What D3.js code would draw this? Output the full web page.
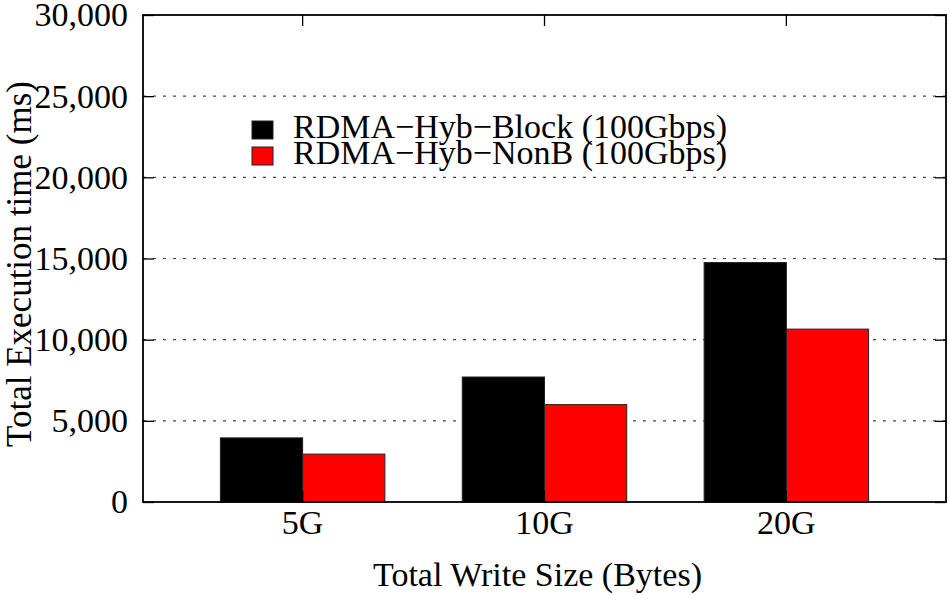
<!DOCTYPE html>
<html>
<head>
<meta charset="utf-8">
<script src="https://cdn.jsdelivr.net/npm/d3@7"></script>
<style>
  body { margin: 0; background: #fff; }
  svg text { font-family: "Liberation Serif", "DejaVu Serif", serif; fill: #000; }
</style>
</head>
<body>
<svg id="chart"></svg>
<script>
// data
const categories = ['5G', '10G', '20G'];
const seriesNames = ['RDMA\u2212Hyb\u2212Block (100Gbps)', 'RDMA\u2212Hyb\u2212NonB (100Gbps)'];
const blockValues = [3950, 7700, 14750];
const nonbValues = [2950, 6000, 10650];
const yTicks = [0, 5000, 10000, 15000, 20000, 25000, 30000];
const colors = ['#000000', '#ff0000'];

const [width, height] = [950, 595];
const margin = { top: 15, right: 4, bottom: 93, left: 143 };
const w = width - margin.left - margin.right;
const h = height - margin.top - margin.bottom;

let svg = d3.select('#chart')
  .attr('width', width)
  .attr('height', height)

let g = svg.append('g')
  .attr('transform', 'translate(' + margin.left + ',' + margin.top + ')')

let x0 = d3.scaleBand()
  .domain(categories)
  .range([0, w])
  .padding(0.32)

let x1 = d3.scaleBand()
  .domain(d3.range(seriesNames.length))
  .range([0, x0.bandwidth()])

let y = d3.scaleLinear()
  .domain([0, 30000])
  .range([h, 0])

// grid lines
g.append('g')
  .selectAll('line')
  .data(yTicks.filter(d => d > 0 && d < 30000))
  .enter()
  .append('line')
  .attr('x1', 0)
  .attr('x2', w)
  .attr('y1', d => y(d))
  .attr('y2', d => y(d))
  .attr('stroke', '#444')
  .attr('stroke-width', 1.2)
  .attr('stroke-dasharray', '3,7')

// bars
let rows = categories.map((c, i) => ({ cat: c, vals: [blockValues[i], nonbValues[i]] }))

g.append('g')
  .selectAll('g')
  .data(rows)
  .enter()
  .append('g')
  .attr('transform', d => 'translate(' + x0(d.cat) + ',0)')
  .selectAll('rect')
  .data(d => d.vals.map((v, k) => ({ k: k, v: v })))
  .enter()
  .append('rect')
  .attr('x', d => x1(d.k))
  .attr('width', x1.bandwidth())
  .attr('y', d => y(d.v))
  .attr('height', d => h - y(d.v))
  .attr('fill', d => colors[d.k])
  .attr('stroke', '#222')
  .attr('stroke-width', 1)

// axes, ticks on both sides like gnuplot
let fmt = d3.format(',')
let tickLen = 11

g.append('g')
  .call(d3.axisLeft(y).tickValues(yTicks).tickFormat(fmt).tickSizeInner(-tickLen).tickSizeOuter(0).tickPadding(15))
  .call(a => a.select('.domain').remove())
  .call(a => a.selectAll('text').style('font-size', '34px'))

g.append('g')
  .attr('transform', 'translate(' + w + ',0)')
  .call(d3.axisRight(y).tickValues(yTicks).tickFormat('').tickSizeInner(-tickLen).tickSizeOuter(0))
  .call(a => a.select('.domain').remove())

g.append('g')
  .attr('transform', 'translate(0,' + h + ')')
  .call(d3.axisBottom(x0).tickSizeInner(-tickLen).tickSizeOuter(0).tickPadding(8))
  .call(a => a.select('.domain').remove())
  .call(a => a.selectAll('text').style('font-size', '34px'))

g.append('g')
  .call(d3.axisTop(x0).tickFormat('').tickSizeInner(-tickLen).tickSizeOuter(0))
  .call(a => a.select('.domain').remove())

g.selectAll('.tick line').attr('stroke', '#000').attr('stroke-width', 1.3)

// frame
g.append('rect')
  .attr('width', w)
  .attr('height', h)
  .attr('fill', 'none')
  .attr('stroke', '#000')
  .attr('stroke-width', 1.8)

// axis titles
svg.append('text')
  .attr('transform', 'translate(31,264) rotate(-90)')
  .attr('text-anchor', 'middle')
  .style('font-size', '35px')
  .text('Total Execution time (ms)')

svg.append('text')
  .attr('x', margin.left + w / 2 - 7)
  .attr('y', 586)
  .attr('text-anchor', 'middle')
  .style('font-size', '34px')
  .text('Total Write Size (Bytes)')

// legend
let legend = g.append('g')
  .attr('transform', 'translate(109,106)')
  .selectAll('g')
  .data(seriesNames)
  .enter()
  .append('g')
  .attr('transform', (d, i) => 'translate(0,' + i * 26 + ')')

legend.append('rect')
  .attr('width', 21)
  .attr('height', 18)
  .attr('fill', (d, i) => colors[i])
  .attr('stroke', '#222')
  .attr('stroke-width', 1)

legend.append('text')
  .attr('x', 41)
  .attr('y', 17)
  .style('font-size', '34px')
  .text(d => d)
</script>
</body>
</html>
